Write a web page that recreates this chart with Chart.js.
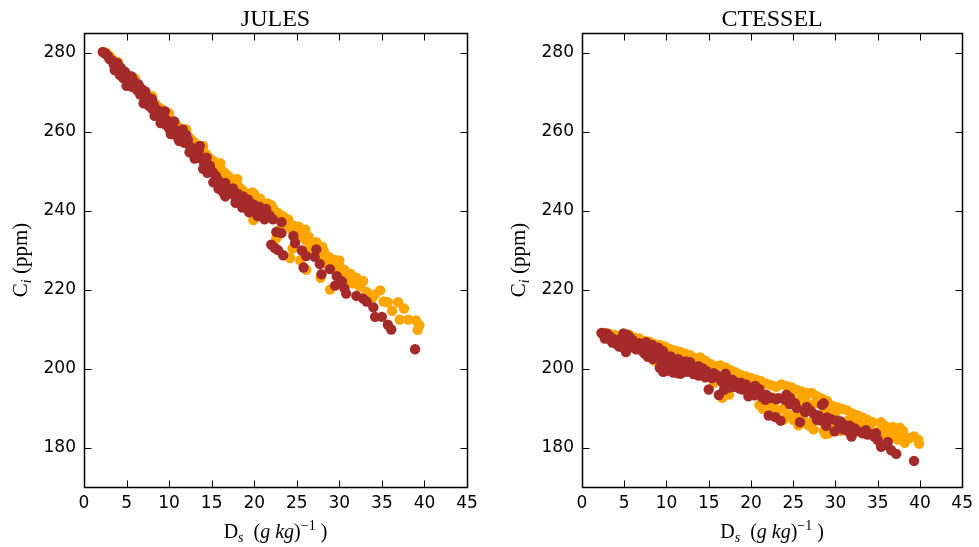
<!DOCTYPE html>
<html>
<head>
<meta charset="utf-8">
<title>Ci vs Ds</title>
<script src="https://cdn.jsdelivr.net/npm/chart.js@4.4.1/dist/chart.umd.min.js"></script>
<style>
  html, body { margin: 0; padding: 0; background: #fff; }
  #wrap { position: relative; width: 979px; height: 547px; overflow: hidden; background: #fff; }
  canvas { position: absolute; top: 0; }
  #julesChart { left: 0; }
  #ctesselChart { left: 490px; }
</style>
</head>
<body>
<div id="wrap">
  <canvas id="julesChart" width="490" height="547"></canvas>
  <canvas id="ctesselChart" width="489" height="547"></canvas>
</div>
<script>
// Axis ticks
const xTicks = [0, 5, 10, 15, 20, 25, 30, 35, 40, 45];
const yTicks = [180, 200, 220, 240, 260, 280];

// JULES: [Ds, Ci] pairs
const julesOrange = [
    [2.6,280],[3.0,279.2],[3.3,278.4],[3.6,277.8],[3.9,277],[4.2,276.4],[4.5,275.6],[4.8,275],[5.1,274.2],[5.4,273.8],
    [5.7,273],[6.0,272.4],[6.3,271.6],[6.6,271],[6.9,270.4],[7.2,269.6],[7.5,269],[7.8,268.4],[8.1,267.6],[8.4,267],
    [8.7,266.2],[9.0,265.8],[9.3,265],[9.6,264.4],[9.9,263.8],[10.2,263],[10.5,262.6],[10.8,261.8],[11.1,261.2],[11.4,260.6],
    [11.7,259.8],[12.0,259.4],[12.3,258.6],[12.6,258],[12.9,257.4],[13.2,256.6],[13.5,256.2],[13.8,255.4],[14.1,254.8],[14.4,254.2],
    [14.7,253.4],[15.0,252.8],[15.3,252.4],[15.6,251.6],[15.9,250.8],[16.2,250.2],[16.5,249.6],[16.8,249],[17.1,248.4],[17.4,247.6],
    [17.7,247],[18.0,246.4],[18.3,245.8],[18.6,245.2],[18.9,244.6],[19.2,243.8],[19.5,243.2],[19.8,244.6],[19.9,237.6],[20.1,242.6],
    [20.4,241.8],[20.7,243],[21.0,241.2],[21.3,240.4],[21.6,241.8],[21.9,239.6],[22.2,240.6],[22.5,238.6],[22.8,239.4],[22.6,233],
    [23.1,237.6],[23.4,238.6],[23.7,236.6],[23.0,235.2],[24.0,237],[24.3,235.4],[24.2,228],[24.6,236.2],[24.9,234.2],[25.2,236],
    [24.5,230.4],[25.5,233.4],[25.8,235],[26.1,232.4],[25.4,227.4],[26.4,233.4],[26.1,225],[26.7,231.2],[27.0,229.6],[26.4,230],
    [27.3,232],[27.6,228.4],[27.8,223],[27.9,227.4],[28.2,229.6],[28.5,226.4],[28.9,220],[28.8,228.2],[29.1,225.6],[29.4,227.6],
    [29.7,224.6],[30.0,226.2],[30.3,223.4],[30.6,225],[30.9,222.2],[31.3,224],[31.6,221.6],[32.0,222.8],[32.4,220.8],[32.8,222.2],
    [33.2,219.4],[33.5,218.4],[33.8,217.6],[34.2,218.8],[34.8,219.8],[35.2,217],[35.7,216.8],[36.2,214.6],[36.9,216.8],[37.6,215.2],
    [37.1,212.4],[38.1,212.4],[39.0,212.2],[39.4,211],[39.2,209.8],
    [4.0,277.6],[6.0,273.4],[8.0,269],[10.0,264.6],[12.0,260.6],[14.0,256.4],[16.0,252],[18.0,248],[20.0,244.2],[22.0,241.4],
    [24.0,237.8],[26.0,235.2],[28.0,230.8],[30.0,227.4],[32.0,223],[32.6,221.6]
];
const julesBrown = [
    [2.2,280.2],[2.5,279.8],[2.8,279.2],[3.0,278.4],[3.3,278],[3.5,277],[3.7,276.4],[3.9,277.4],[4.1,275.6],[4.3,276.2],
    [4.5,274.8],[4.6,273.6],[4.8,275.2],[5.0,273],[5.2,274.2],[5.4,272.2],[5.6,271.4],[5.8,273],[6.0,271.6],[6.2,270.6],
    [6.4,272],[7.2,269],[7.4,267.6],[7.6,266.6],[7.8,268.4],[8.0,265.8],[8.2,266.8],[8.4,264.8],[8.6,265.6],[8.8,263.8],
    [9.0,264.6],[9.2,262.8],[9.4,263.8],[9.6,261.8],[9.8,262.8],[10.0,260.8],[10.3,261.6],[10.5,259.8],[10.8,260.4],[11.0,258.6],
    [11.4,259.4],[11.8,257.2],[12.2,258],[12.5,256.2],[12.9,255.4],[13.2,254.2],[13.5,255.2],[13.8,253.2],[14.1,252.2],[14.4,253.4],
    [14.0,250.6],[14.8,251.4],[15.1,249.8],[15.2,247.2],[15.5,248.8],[15.8,247.6],[16.0,246],[16.3,244.8],[16.6,247],[16.9,245.6],
    [17.2,244.4],[17.5,245.6],[17.8,243.4],[18.1,244.2],[18.4,242.4],[18.7,243.6],[19.0,241.6],[19.3,242.8],[19.6,240.6],[19.9,241.6],
    [20.3,240.2],[20.6,241],[21.0,239.6],[21.4,240.4],[21.8,238.8],[22.2,237.8],[23.2,237.1],[22.0,231.4],[22.4,230.6],[22.8,230],
    [23.4,228.7],[22.6,234.6],[23.2,234.3],[24.6,233.6],[24.8,231.8],[25.6,229.9],[25.8,225.6],[26.1,228.5],[27.1,228.3],[27.3,230.2],
    [27.7,226.5],[27.9,223.9],[28.9,225.2],[29.5,221],[29.7,223.4],[30.3,222.1],[30.6,220.3],[30.8,219],[32.0,218.4],[32.8,217.7],
    [33.2,217],[34.0,215.5],[34.2,213.1],[35.0,213.1],[35.7,211.1],[36.1,209.9],[38.9,204.9],
    [3.6,275.6],[4.2,274.4],[5.0,271.6],[5.6,274],[6.6,269.4],[6.8,270.8],[7.0,267.2],[7.2,270.2],[8.0,268.2],[8.3,264],
    [9.0,262.2],[9.5,265.2],[10.2,259.4],[10.6,262.6],[11.2,257.6],[11.6,260.6],[12.4,254.8],[12.0,259.2],[13.0,253.2],[13.6,256.4],
    [14.5,249.6],[15.8,245.6],[16.6,243.6],[17.8,242],[18.6,240.8],[19.4,239.6],[20.4,238.6],[20.8,239.4],[21.2,237.8]
];

// CTESSEL: [Ds, Ci] pairs
const ctesselOrange = [
    [2.6,209],[3.2,208.8],[3.8,208.6],[4.4,208.2],[5.0,208.4],[5.6,208.6],[6.2,207.8],[6.8,207.6],[7.4,207],[8.0,206.8],
    [8.6,206.2],[9.2,206],[9.8,205.6],[10.4,205],[11.0,204.6],[11.6,204.2],[12.2,203.8],[12.8,203.4],[13.4,202.6],[14.0,202.8],
    [14.6,202],[8.6,202],[9.4,201],[10.2,200.6],[11.0,199.8],[12.0,199.6],[13.0,199.4],[15.2,201.2],[15.8,200.6],[16.4,200.8],
    [17.0,200.2],[17.6,199.6],[18.2,199],[18.8,198.4],[19.4,198],[20.0,197.6],[20.6,197.2],[16.6,192.6],[17.4,193.4],[15.6,196.4],
    [18.2,195.6],[19.4,194.6],[20.6,193.4],[21.2,196.8],[21.8,196.2],[22.4,195.8],[23.0,195.4],[23.6,196],[24.2,195.6],[24.8,195.2],
    [25.4,194.6],[26.0,194.2],[26.6,193.8],[27.2,193.8],[27.8,193],[28.4,192.4],[29.0,191.8],[29.6,190.6],[30.2,190.2],[30.8,189.8],
    [31.4,189.4],[32.0,188.6],[32.6,188.2],[33.2,187.6],[33.8,187],[34.4,186.4],[35.4,186.4],[21.0,190.8],[21.8,191.4],[22.6,190.2],
    [23.2,189.4],[22.0,193],[23.8,189.8],[24.4,188.4],[25.0,187],[25.6,188.6],[26.2,187.2],[26.8,185.6],[27.2,186.4],[26.0,190.6],
    [27.6,188],[28.2,186.8],[28.6,184.2],[29.2,183.6],[29.8,185],[30.4,186.6],[31.0,185.8],[31.6,187],[31.6,184.4],[32.2,185.4],
    [32.8,186.6],[33.4,185.2],[34.0,184.6],[34.6,183.6],[35.2,184.2],[35.8,183.4],[36.4,184.2],[37.0,184.4],[37.6,185],[38.0,184.2],
    [36.6,182.6],[37.4,182],[38.2,181.2],[38.8,182.4],[39.3,182.8],[39.8,182],[39.9,181],[24.0,192.2],[25.0,191],[26.4,192.4],
    [27.6,191.2],[28.8,189.6],[30.0,188],[19.0,196.6],[20.0,194.8],[15.0,198.4],[14.0,199.6],[7.0,205],[6.0,206],[28.8,183.4],
    [22.8,192.6],[24.8,193.4],[25.8,192],[26.8,190.8],[27.4,184.6],[25.6,185.6],[23.8,187],[21.4,189.8],[29.4,188.4],[30.6,184.2],
    [31.8,186.2],[33.0,184.4],[35.8,185.6],[36.8,185.2],[37.8,183]
];
const ctesselBrown = [
    [2.3,209],[2.6,208.8],[2.9,208.9],[3.2,208.4],[2.7,207.6],[3.4,207.2],[3.7,207.5],[4.0,206.6],[4.1,206.2],[4.4,205.6],
    [4.9,205.3],[5.2,204.2],[4.9,208.9],[5.3,208.6],[5.6,208],[5.6,206.2],[6.0,207.2],[6.4,204.9],[6.8,206.4],[7.2,205.6],
    [7.6,206.7],[8.0,204.9],[8.3,206],[8.8,203.1],[9.0,205.3],[9.2,204.2],[9.4,201.8],[9.6,199.2],[9.6,204.4],[9.9,202.6],
    [10.2,201.4],[10.5,203.1],[10.7,200],[11.1,200.9],[11.4,202.4],[11.7,198.7],[12.0,199.6],[12.3,201.8],[12.7,200.5],[13.1,199.8],
    [13.5,199.2],[13.8,200.6],[14.3,198.3],[14.3,200],[14.7,199.4],[15.0,198.7],[15.0,194.7],[15.4,197.6],[16.0,198.3],[16.2,193.3],
    [16.6,196.5],[16.8,194.6],[17.0,198.7],[17.4,195.2],[17.8,197.2],[18.2,196.5],[18.6,195],[19.0,194.7],[19.4,196],[19.7,193],
    [20.1,194.6],[20.5,195.6],[20.9,193.9],[21.3,192.8],[21.7,192.1],[22.1,188.1],[22.9,187.7],[23.5,186.8],[23.3,192.5],[24.0,192.1],
    [24.2,193.4],[24.6,191],[25.2,191.2],[25.8,186.4],[26.4,189],[26.6,190.3],[27.4,188.6],[28.0,188.1],[28.4,190.8],[28.6,191.2],
    [28.4,186.8],[28.9,185.5],[29.5,187.2],[30.1,186.8],[29.9,184.1],[30.5,185.6],[30.9,184.6],[31.5,184.1],[31.7,185.5],[31.9,182.8],
    [32.3,184.8],[32.7,184.1],[33.2,183.6],[33.8,183.3],[34.2,183.4],[34.6,182.8],[35.0,181.9],[35.4,180.2],[36.0,180.6],[36.6,179.3],
    [37.2,178.4],[39.3,176.6],
    [3.0,207.8],[3.6,206.6],[4.4,207.4],[5.0,206.6],[5.8,205.4],[6.2,206.2],[7.0,204.6],[7.4,203.8],[7.8,203],[8.4,202.4],
    [8.6,204.6],[9.2,200.2],[10.0,199.4],[10.4,201.6],[10.8,199],[11.4,198.8],[11.8,200.4],[12.4,199.2],[12.8,201.6],[13.2,198.6],
    [13.8,198.2],[14.6,197.8],[15.6,198.8],[16.4,197.2],[17.2,196.8],[18.0,195.4],[18.8,196.4],[19.6,195],[20.4,193.2],[21.0,194.8],
    [21.8,193.4],[22.4,192.6],[23.0,192.2],[24.6,192.6],[25.4,190],[27.0,189.4],[27.8,187],[29.0,187.6],[30.6,186.6],[31.2,185.6],
    [33.6,184.4],[34.8,183.6],[36.2,181.4]
];

const ORANGE = '#ffa500';
const BROWN = '#a52a2a';
const TICK_LEN = 7;
const serif = '"Liberation Serif", "Times New Roman", serif';

function toXY(pairs) {
    return pairs.map(p => ({ x: p[0], y: p[1] }));
}

// Draw a run of text pieces (for sub/superscripts) centred on x
function drawRuns(ctx, runs, cx, cy) {
    let total = 0;
    runs.forEach(r => {
        ctx.font = r.font;
        r.w = ctx.measureText(r.text).width;
        total += r.w;
    });
    let x = cx - total / 2;
    ctx.textAlign = 'left';
    ctx.textBaseline = 'alphabetic';
    runs.forEach(r => {
        ctx.font = r.font;
        ctx.fillText(r.text, x, cy + (r.dy || 0));
        x += r.w;
    });
}

const xLabelRuns = [
    { text: 'D', font: '20px ' + serif },
    { text: 's', font: 'italic 14px ' + serif, dy: 4 },
    { text: '  (', font: '20px ' + serif },
    { text: 'g kg', font: 'italic 20px ' + serif },
    { text: ')', font: '20px ' + serif },
    { text: '\u22121', font: '14px ' + serif, dy: -8 },
    { text: ' )', font: '20px ' + serif }
];
const yLabelRuns = [
    { text: 'C', font: '21px ' + serif },
    { text: 'i', font: 'italic 14px ' + serif, dy: 4 },
    { text: ' (ppm)', font: '21px ' + serif }
];

// Box, inward ticks on all sides, title and axis labels
const framePlugin = {
    id: 'frame',
    afterDraw(chart, args, opts) {
        const { ctx, chartArea: a, scales } = chart;
        const l = Math.round(a.left) + 0.5, r = Math.round(a.right) + 0.5;
        const t = Math.round(a.top) + 0.5, b = Math.round(a.bottom) + 0.5;
        ctx.save();
        ctx.strokeStyle = '#000';
        ctx.lineWidth = 1;
        ctx.beginPath();
        scales.x.ticks.forEach(tk => {
            const px = Math.round(scales.x.getPixelForValue(tk.value)) + 0.5;
            ctx.moveTo(px, b); ctx.lineTo(px, b - TICK_LEN);
            ctx.moveTo(px, t); ctx.lineTo(px, t + TICK_LEN);
        });
        scales.y.ticks.forEach(tk => {
            const py = Math.round(scales.y.getPixelForValue(tk.value)) + 0.5;
            ctx.moveTo(l, py); ctx.lineTo(l + TICK_LEN, py);
            ctx.moveTo(r, py); ctx.lineTo(r - TICK_LEN, py);
        });
        ctx.stroke();
        ctx.lineWidth = 1.5;
        ctx.strokeRect(l, t, r - l, b - t);

        ctx.fillStyle = '#000';
        ctx.font = '24px ' + serif;
        ctx.textAlign = 'center';
        ctx.textBaseline = 'alphabetic';
        ctx.fillText(opts.title, (a.left + a.right) / 2, 26);

        drawRuns(ctx, xLabelRuns, (a.left + a.right) / 2, 538);

        ctx.translate(a.left - 57, (a.top + a.bottom) / 2);
        ctx.rotate(-Math.PI / 2);
        drawRuns(ctx, yLabelRuns, 0, 0);
        ctx.restore();
    }
};

function makeChart(canvasId, title, orangePts, brownPts, yAxisWidth, padRight) {
    const tickFont = { family: '"DejaVu Sans", sans-serif', size: 17 };
    return new Chart(document.getElementById(canvasId), {
        type: 'scatter',
        data: {
            datasets: [
                { label: 'orange', data: toXY(orangePts), backgroundColor: ORANGE, order: 2 },
                { label: 'brown', data: toXY(brownPts), backgroundColor: BROWN, order: 1 }
            ]
        },
        options: {
            responsive: false,
            animation: false,
            devicePixelRatio: 1,
            layout: { padding: { top: 33, right: padRight, left: 0, bottom: 0 } },
            elements: { point: { radius: 5.2, hoverRadius: 5.2, borderWidth: 0 } },
            plugins: {
                legend: { display: false },
                tooltip: { enabled: false },
                frame: { title: title }
            },
            scales: {
                x: {
                    type: 'linear',
                    min: 0,
                    max: 45,
                    afterBuildTicks: s => { s.ticks = xTicks.map(v => ({ value: v })); },
                    afterFit: s => { s.height = 60; },
                    grid: { display: false, drawTicks: false },
                    border: { display: false },
                    ticks: { font: tickFont, color: '#000', padding: 6, autoSkip: false, maxRotation: 0 }
                },
                y: {
                    type: 'linear',
                    min: 170,
                    max: 285,
                    afterBuildTicks: s => { s.ticks = yTicks.map(v => ({ value: v })); },
                    afterFit: s => { s.width = yAxisWidth; },
                    grid: { display: false, drawTicks: false },
                    border: { display: false },
                    ticks: { font: tickFont, color: '#000', padding: 8 }
                }
            }
        },
        plugins: [framePlugin]
    });
}

makeChart('julesChart', 'JULES', julesOrange, julesBrown, 84, 23);
makeChart('ctesselChart', 'CTESSEL', ctesselOrange, ctesselBrown, 92, 14);
</script>
</body>
</html>
